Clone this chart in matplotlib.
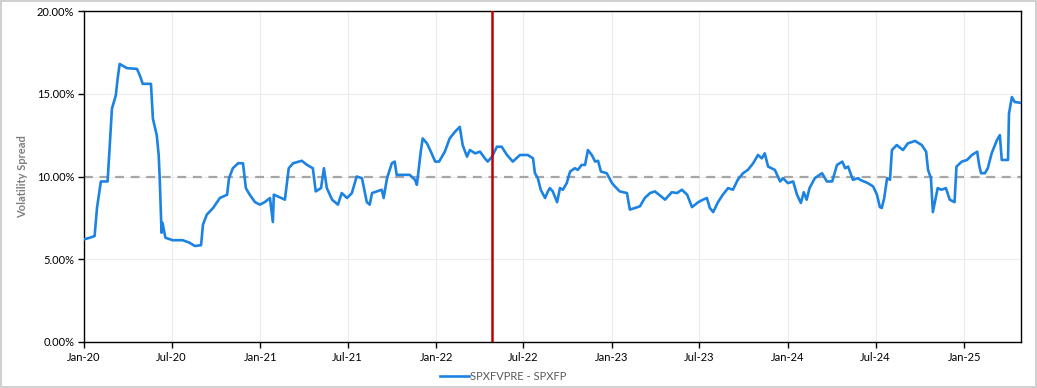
import numpy as np
import pandas as pd
import matplotlib
matplotlib.use('Agg')
import matplotlib.pyplot as plt
import matplotlib.dates as mdates
from matplotlib.ticker import PercentFormatter

# Volatility spread SPXFVPRE - SPXFP (percent)
dates = [
    '2020-01-01', '2020-01-13', '2020-01-23', '2020-01-28', '2020-02-05', '2020-02-19',
    '2020-02-28', '2020-03-07', '2020-03-11', '2020-03-15', '2020-03-30', '2020-04-20',
    '2020-04-26', '2020-05-02', '2020-05-19', '2020-05-23', '2020-05-31', '2020-06-04',
    '2020-06-06', '2020-06-10', '2020-06-12', '2020-06-18', '2020-07-03', '2020-07-24',
    '2020-08-07', '2020-08-18', '2020-08-31', '2020-09-04', '2020-09-12', '2020-09-25',
    '2020-10-09', '2020-10-24', '2020-10-28', '2020-11-05', '2020-11-16', '2020-11-26',
    '2020-12-02', '2020-12-10', '2020-12-21', '2020-12-31', '2021-01-10', '2021-01-21',
    '2021-01-27', '2021-01-29', '2021-02-06', '2021-02-21', '2021-03-01', '2021-03-10',
    '2021-03-28', '2021-04-08', '2021-04-20', '2021-04-26', '2021-05-07', '2021-05-13',
    '2021-05-19', '2021-05-30', '2021-06-11', '2021-06-19', '2021-06-30', '2021-07-10',
    '2021-07-20', '2021-07-31', '2021-08-10', '2021-08-16', '2021-08-21', '2021-09-10',
    '2021-09-14', '2021-09-21', '2021-10-01', '2021-10-07', '2021-10-11', '2021-10-24',
    '2021-11-07', '2021-11-18', '2021-11-22', '2021-11-30', '2021-12-04', '2021-12-13',
    '2021-12-21', '2021-12-30', '2022-01-07', '2022-01-19', '2022-01-29', '2022-02-09',
    '2022-02-19', '2022-02-25', '2022-03-06', '2022-03-12', '2022-03-23', '2022-04-02',
    '2022-04-12', '2022-04-18', '2022-04-27', '2022-05-07', '2022-05-17', '2022-05-28',
    '2022-06-09', '2022-06-24', '2022-07-10', '2022-07-21', '2022-07-25', '2022-07-31',
    '2022-08-06', '2022-08-15', '2022-08-21', '2022-08-25', '2022-08-31', '2022-09-09',
    '2022-09-15', '2022-09-21', '2022-09-29', '2022-10-06', '2022-10-16', '2022-10-22',
    '2022-10-30', '2022-11-06', '2022-11-12', '2022-11-20', '2022-11-27', '2022-12-03',
    '2022-12-09', '2022-12-21', '2023-01-01', '2023-01-07', '2023-01-17', '2023-02-01',
    '2023-02-07', '2023-02-18', '2023-02-28', '2023-03-10', '2023-03-21', '2023-03-31',
    '2023-04-15', '2023-04-21', '2023-05-05', '2023-05-16', '2023-05-26', '2023-06-06',
    '2023-06-16', '2023-06-29', '2023-07-09', '2023-07-17', '2023-07-23', '2023-07-30',
    '2023-08-09', '2023-08-19', '2023-08-30', '2023-09-09', '2023-09-19', '2023-09-30',
    '2023-10-10', '2023-10-21', '2023-10-31', '2023-11-08', '2023-11-14', '2023-11-21',
    '2023-12-05', '2023-12-16', '2023-12-22', '2024-01-01', '2024-01-12', '2024-01-20',
    '2024-01-28', '2024-02-03', '2024-02-09', '2024-02-15', '2024-02-26', '2024-03-12',
    '2024-03-22', '2024-04-02', '2024-04-12', '2024-04-23', '2024-04-29', '2024-05-05',
    '2024-05-15', '2024-05-26', '2024-05-30', '2024-06-15', '2024-06-26', '2024-07-04',
    '2024-07-10', '2024-07-14', '2024-07-19', '2024-07-25', '2024-07-31', '2024-08-04',
    '2024-08-14', '2024-08-27', '2024-09-06', '2024-09-21', '2024-10-05', '2024-10-14',
    '2024-10-18', '2024-10-24', '2024-10-28', '2024-11-03', '2024-11-07', '2024-11-15',
    '2024-11-24', '2024-12-02', '2024-12-12', '2024-12-16', '2024-12-27', '2025-01-07',
    '2025-01-17', '2025-01-28', '2025-02-01', '2025-02-05', '2025-02-13', '2025-02-19',
    '2025-02-27', '2025-03-10', '2025-03-16', '2025-03-20', '2025-04-02', '2025-04-04',
    '2025-04-10', '2025-04-16', '2025-04-29',
]
spread = [
    6.2, 6.3, 6.4, 8.1, 9.7, 9.7,
    14.1, 14.9, 15.95, 16.8, 16.55, 16.5,
    16.1, 15.6, 15.6, 13.5, 12.5, 11.3,
    10.0, 6.6, 7.2, 6.3, 6.15, 6.15,
    6.0, 5.8, 5.85, 7.1, 7.7, 8.1,
    8.7, 8.9, 9.9, 10.5, 10.8, 10.8,
    9.3, 8.9, 8.45, 8.3, 8.45, 8.7,
    7.25, 8.9, 8.8, 8.6, 10.5, 10.8,
    10.95, 10.7, 10.5, 9.1, 9.3, 10.5,
    9.3, 8.6, 8.3, 9.0, 8.7, 9.0,
    10.0, 9.9, 8.45, 8.3, 9.0, 9.2,
    8.7, 9.9, 10.8, 10.9, 10.1, 10.1,
    10.1, 9.8, 9.5, 11.5, 12.3, 12.0,
    11.5, 10.9, 10.9, 11.5, 12.3, 12.7,
    13.0, 11.9, 11.2, 11.6, 11.4, 11.5,
    11.1, 10.9, 11.2, 11.8, 11.8, 11.3,
    10.9, 11.3, 11.3, 11.1, 10.2, 9.9,
    9.2, 8.7, 9.1, 9.3, 9.1, 8.45,
    9.3, 9.2, 9.6, 10.3, 10.5, 10.4,
    10.7, 10.7, 11.6, 11.3, 10.9, 10.95,
    10.3, 10.2, 9.6, 9.4, 9.1, 9.0,
    8.0, 8.1, 8.2, 8.7, 9.0, 9.1,
    8.75, 8.6, 9.05, 9.0, 9.2, 8.9,
    8.15, 8.45, 8.6, 8.7, 8.1, 7.85,
    8.45, 8.9, 9.3, 9.2, 9.8, 10.2,
    10.4, 10.8, 11.3, 11.1, 11.4, 10.6,
    10.4, 9.7, 9.9, 9.6, 9.7, 8.9,
    8.4, 9.05, 8.6, 9.3, 9.9, 10.2,
    9.7, 9.7, 10.7, 10.9, 10.5, 10.6,
    9.8, 9.9, 9.8, 9.6, 9.4, 8.9,
    8.15, 8.1, 8.7, 9.9, 9.8, 11.6,
    11.9, 11.6, 12.0, 12.15, 11.9, 11.5,
    10.4, 9.9, 7.85, 8.7, 9.3, 9.2,
    9.3, 8.6, 8.45, 10.6, 10.9, 11.0,
    11.3, 11.5, 10.7, 10.2, 10.2, 10.5,
    11.4, 12.2, 12.5, 11.0, 11.0, 13.8,
    14.8, 14.5, 14.45,
]
series_label = 'SPXFVPRE - SPXFP'
reference_level = 10.0
event_date = '2022-04-27'
x_start, x_end = '2020-01-01', '2025-04-29'

plt.rcParams['font.family'] = ['Lato', 'DejaVu Sans']

fig = plt.figure(figsize=(10.37, 3.88), dpi=100)
fig.patch.set_edgecolor('#d0d0d0')
fig.patch.set_linewidth(1.5)
ax = fig.add_axes([0.081, 0.1186, 0.9036, 0.853])

t = pd.to_datetime(dates)
line, = ax.plot(t, spread, color='#1c83e3', linewidth=1.9, label=series_label, zorder=3)
ax.axhline(reference_level, color='#a6a6a6', linestyle=(0, (4, 3)), linewidth=1.6, zorder=2)
ax.axvline(pd.Timestamp(event_date), color='#c00000', linewidth=1.8, zorder=4)

ax.set_xlim(pd.Timestamp(x_start), pd.Timestamp(x_end))
ax.set_ylim(0, 20)
ax.yaxis.set_major_locator(plt.MultipleLocator(5))
ax.yaxis.set_major_formatter(PercentFormatter(decimals=2))
ax.xaxis.set_major_locator(mdates.MonthLocator(bymonth=[1, 7]))
ax.xaxis.set_major_formatter(mdates.DateFormatter('%b-%y'))

ax.grid(True, color='#ececec', linewidth=0.8, zorder=0)
ax.tick_params(axis='both', labelsize=8, colors='black', length=4, width=1, pad=3)
for s in ax.spines.values():
    s.set_color('black')
    s.set_linewidth(1)

ax.set_ylabel('Volatility Spread', fontsize=8, color='#7f7f7f', fontweight='bold', labelpad=6)

fig.legend(handles=[line], loc='center', bbox_to_anchor=(0.485, 0.03), frameon=False,
           fontsize=8, handlelength=2.6, handletextpad=0.1, labelcolor='#595959')

fig.savefig('out.png', dpi=100, edgecolor=fig.get_edgecolor())
